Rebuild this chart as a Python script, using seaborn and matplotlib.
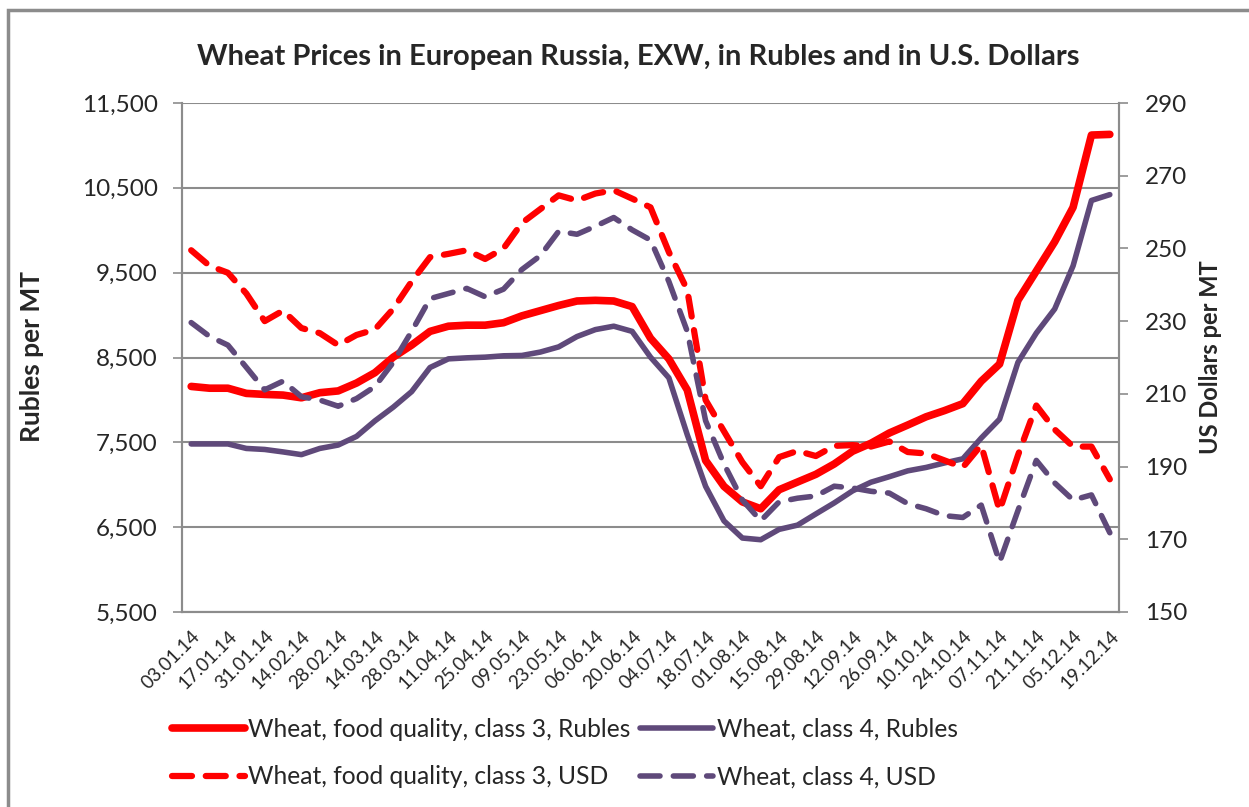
import numpy as np
import pandas as pd
import matplotlib
matplotlib.use("Agg")
import matplotlib.pyplot as plt
import seaborn as sns
from matplotlib.patches import Rectangle

# weekly dates, 03.01.14 .. 19.12.14
dates = pd.date_range("2014-01-03", "2014-12-19", freq="7D")
date_labels = [d.strftime("%d.%m.%y") for d in dates]

# Rubles per MT
class3_rub = [8159, 8138, 8138, 8077, 8065, 8057, 8025, 8085, 8106, 8199,
              8321, 8504, 8646, 8808, 8869, 8881, 8881, 8910, 8991, 9052,
              9113, 9166, 9174, 9166, 9100, 8727, 8483, 8118, 7286, 6981,
              6798, 6717, 6941, 7032, 7123, 7245, 7395, 7489, 7610, 7704,
              7801, 7874, 7956, 8220, 8423, 9174, 9519, 9864, 10270, 11122,
              11130]
class4_rub = [7481, 7481, 7481, 7428, 7416, 7387, 7355, 7428, 7468, 7570,
              7753, 7915, 8098, 8382, 8484, 8496, 8504, 8520, 8524, 8564,
              8625, 8747, 8829, 8869, 8808, 8504, 8260, 7590, 6981, 6574,
              6372, 6352, 6474, 6524, 6656, 6786, 6928, 7030, 7095, 7164,
              7204, 7257, 7306, 7550, 7773, 8443, 8788, 9072, 9580, 10351,
              10420]

# US dollars per MT
class3_usd = [249.5, 245.2, 243.3, 237.6, 230.0, 232.9, 228.1, 226.7, 223.4, 226.2,
              227.7, 233.4, 240.9, 247.6, 248.5, 249.5, 247.1, 250.0, 257.0, 260.8,
              264.6, 263.2, 265.1, 266.0, 263.7, 261.3, 249.0, 238.6, 208.3, 199.7,
              191.2, 184.6, 192.6, 194.3, 192.9, 195.7, 195.9, 195.5, 196.9, 194.0,
              193.6, 191.7, 189.8, 195.9, 177.9, 193.1, 206.8, 200.2, 195.5, 195.5,
              186.5]
class4_usd = [229.6, 225.8, 223.4, 217.3, 211.1, 213.5, 209.2, 208.3, 206.6, 208.7,
              212.0, 218.7, 227.2, 236.2, 237.6, 239.0, 236.7, 238.8, 244.2, 248.0,
              254.7, 253.9, 256.1, 258.5, 255.1, 252.3, 240.9, 227.2, 202.6, 190.7,
              180.8, 175.1, 180.3, 181.3, 181.9, 184.6, 184.1, 183.2, 182.7, 179.8,
              178.4, 176.5, 176.0, 179.4, 163.7, 177.9, 191.7, 185.5, 180.8, 182.2,
              171.8]

labels = ["Wheat, food quality, class 3, Rubles", "Wheat, class 4, Rubles",
          "Wheat, food quality, class 3, USD", "Wheat, class 4, USD"]

RED = "#FF0000"
PURPLE = "#5F497A"
GRID = "#8C8C8C"

sns.set_style("white")
plt.rcParams["font.family"] = ["Lato", "DejaVu Sans"]

x = np.arange(len(dates))

fig = plt.figure(figsize=(12.49, 8.07), dpi=100)
ax = fig.add_axes([182/1249, 1-612/807, 937/1249, 509/807])
ax2 = ax.twinx()

sns.lineplot(x=x, y=class3_rub, ax=ax, color=RED, linewidth=5.5,
             solid_capstyle="round", label=labels[0], legend=False)
sns.lineplot(x=x, y=class4_rub, ax=ax, color=PURPLE, linewidth=4,
             solid_capstyle="round", label=labels[1], legend=False)
sns.lineplot(x=x, y=class3_usd, ax=ax2, color=RED, linewidth=4.5,
             linestyle=(0, (3.2, 2.2)), dash_capstyle="round",
             label=labels[2], legend=False)
sns.lineplot(x=x, y=class4_usd, ax=ax2, color=PURPLE, linewidth=4,
             linestyle=(0, (3.6, 2.4)), dash_capstyle="round",
             label=labels[3], legend=False)

ax.set_xlim(-0.5, len(x) - 0.5)
ax.set_ylim(5500, 11500)
ax2.set_ylim(150, 290)

ax.set_yticks(np.arange(5500, 11501, 1000))
ax.set_yticklabels([f"{v:,}" for v in range(5500, 11501, 1000)])
ax2.set_yticks(np.arange(150, 291, 20))

ax.set_xticks(x[::2])
ax.set_xticklabels(date_labels[::2], rotation=45, ha="right",
                   rotation_mode="anchor", fontsize=13.5)
ax.set_xticks(np.arange(-0.5, len(x), 1), minor=True)
ax.tick_params(axis="x", which="major", length=0, pad=11)
ax.tick_params(axis="x", which="minor", length=4.5, width=1.2, color=GRID,
               direction="out")
ax.tick_params(axis="y", length=6.5, width=1.2, color=GRID, labelsize=17.5,
               pad=11, left=True)
ax2.tick_params(axis="y", length=6.5, width=1.2, color=GRID, labelsize=17.5,
                pad=12, right=True)

ax.yaxis.grid(True, color=GRID, linewidth=1.5)
ax.xaxis.grid(False)
ax2.grid(False)

for a in (ax, ax2):
    a.spines["top"].set_visible(False)
    for side in ("left", "bottom", "right"):
        a.spines[side].set_color(GRID)
        a.spines[side].set_linewidth(1.5)

ax.set_xlabel("")
fig.text(32/1249, 1-357/807, "Rubles per MT", rotation=90, ha="center",
         va="center", fontsize=19, fontweight="bold")
fig.text(1210/1249, 1-357/807, "US Dollars per MT", rotation=90, ha="center",
         va="center", fontsize=17, fontweight="bold")

fig.text(638/1249, 1-57/807,
         "Wheat Prices in European Russia, EXW, in Rubles and in U.S. Dollars",
         ha="center", va="center", fontsize=21, fontweight="bold")

h1, _ = ax.get_legend_handles_labels()
h2, _ = ax2.get_legend_handles_labels()
handles = [h1[0], h2[0], h1[1], h2[1]]
leg_labels = [labels[0], labels[2], labels[1], labels[3]]
fig.legend(handles, leg_labels, ncol=2, loc="center left",
           bbox_to_anchor=(172/1249, 1-753/807), frameon=False,
           fontsize=17.7, handlelength=2.95, handletextpad=0.15,
           columnspacing=0.4, labelspacing=1.0, borderpad=0,
           borderaxespad=0)

fig.add_artist(Rectangle((8/1249, -0.01), 1.1, 1-10/807 + 0.01,
                         transform=fig.transFigure, fill=False,
                         edgecolor="#8C8C8C", linewidth=2.5))

fig.savefig("out.png", dpi=100)
